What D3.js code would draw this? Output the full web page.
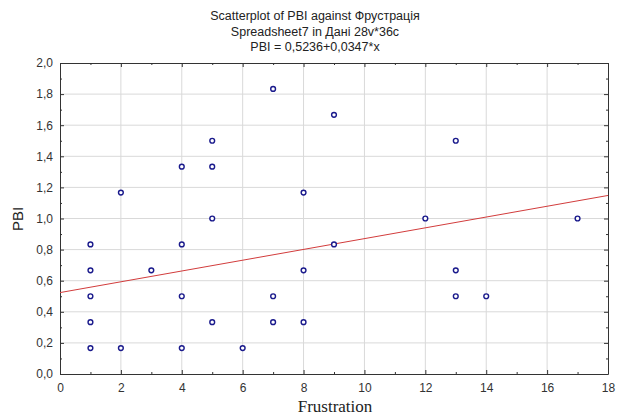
<!DOCTYPE html>
<html><head><meta charset="utf-8">
<script src="https://cdn.jsdelivr.net/npm/d3@7"></script>
<style>body{margin:0;background:#fff}svg{display:block}</style>
</head><body>
<script>
const titleLines = ["Scatterplot of PBI against Фрустрація", "Spreadsheet7 in Дані 28v*36c", "PBI = 0,5236+0,0347*x"];
const xLabel = "Frustration";
const yLabel = "PBI";
const frustration = [1,1,1,1,1, 2,2, 3, 4,4,4,4, 5,5,5,5, 6, 7,7,7, 8,8,8, 9,9, 12, 13,13,13, 14, 17];
const pbi = [0.8333,0.6667,0.5,0.3333,0.1667, 1.1667,0.1667, 0.6667, 1.3333,0.8333,0.5,0.1667, 1.5,1.3333,1.0,0.3333, 0.1667, 1.8333,0.5,0.3333, 1.1667,0.6667,0.3333, 1.6667,0.8333, 1.0, 1.5,0.6667,0.5, 0.5, 1.0];
const intercept = 0.5236, slope = 0.0347;
const xTicks = [0,2,4,6,8,10,12,14,16,18];
const yTicks = [0,0.2,0.4,0.6,0.8,1.0,1.2,1.4,1.6,1.8,2.0];

const W = 617, H = 418;
const L = 60, R = 608, T = 63, B = 374;
const svg = d3.select("body").append("svg").attr("width", W).attr("height", H);
const x = d3.scaleLinear().domain([0,18]).range([L,R]);
const y = d3.scaleLinear().domain([0,2]).range([B,T]);
const fmt = d => d3.format(".1f")(d).replace(".", ",");

// grid
svg.append("g").selectAll("line").data(xTicks.slice(1,-1)).join("line")
  .attr("x1", d=>x(d)).attr("x2", d=>x(d)).attr("y1", T).attr("y2", B)
  .attr("stroke", "#d9d9d9").attr("stroke-width", 1);
svg.append("g").selectAll("line").data(yTicks.slice(1,-1)).join("line")
  .attr("y1", d=>y(d)).attr("y2", d=>y(d)).attr("x1", L).attr("x2", R)
  .attr("stroke", "#d9d9d9").attr("stroke-width", 1);

// axes with inward ticks
const xMinor = d3.range(1,18,2), yMinor = d3.range(0.1,2,0.2);
const axCol = "#333";
svg.append("g").attr("transform", `translate(0,${B})`)
  .call(d3.axisBottom(x).tickValues(xTicks).tickFormat(d=>d).tickSizeInner(-4).tickSizeOuter(0).tickPadding(9));
svg.append("g").attr("transform", `translate(${L},0)`)
  .call(d3.axisLeft(y).tickValues(yTicks).tickFormat(fmt).tickSizeInner(-4).tickSizeOuter(0).tickPadding(7));
svg.append("g").attr("transform", `translate(0,${T})`)
  .call(d3.axisTop(x).tickValues(xTicks).tickFormat("").tickSizeInner(-4).tickSizeOuter(0));
svg.append("g").attr("transform", `translate(${R},0)`)
  .call(d3.axisRight(y).tickValues(yTicks).tickFormat("").tickSizeInner(-4).tickSizeOuter(0));
svg.append("g").attr("transform", `translate(0,${B})`).call(d3.axisBottom(x).tickValues(xMinor).tickFormat("").tickSizeInner(-2).tickSizeOuter(0)).select(".domain").remove();
svg.append("g").attr("transform", `translate(0,${T})`).call(d3.axisTop(x).tickValues(xMinor).tickFormat("").tickSizeInner(-2).tickSizeOuter(0)).select(".domain").remove();
svg.append("g").attr("transform", `translate(${L},0)`).call(d3.axisLeft(y).tickValues(yMinor).tickFormat("").tickSizeInner(-2).tickSizeOuter(0)).select(".domain").remove();
svg.append("g").attr("transform", `translate(${R},0)`).call(d3.axisRight(y).tickValues(yMinor).tickFormat("").tickSizeInner(-2).tickSizeOuter(0)).select(".domain").remove();
svg.selectAll(".domain, .tick line").attr("stroke", axCol);
svg.selectAll(".tick text").attr("font-family", "Liberation Sans, Arial, sans-serif").attr("font-size", 12).attr("fill", "#333");

// regression line
svg.append("line")
  .attr("x1", x(0)).attr("y1", y(intercept)).attr("x2", x(18)).attr("y2", y(intercept + slope*18))
  .attr("stroke", "#d23c3c").attr("stroke-width", 1);

// points
svg.append("g").selectAll("circle").data(frustration.map((f,i)=>[f,pbi[i]])).join("circle")
  .attr("cx", d=>x(d[0])).attr("cy", d=>y(d[1])).attr("r", 2.4)
  .attr("fill", "#fff").attr("stroke", "#1a1a8c").attr("stroke-width", 1.4);

// titles
svg.append("g").selectAll("text").data(titleLines).join("text")
  .attr("x", 315).attr("y", (d,i)=>20 + i*15.5).attr("text-anchor", "middle")
  .attr("font-family", "Liberation Sans, Arial, sans-serif").attr("font-size", 12.5).attr("fill", "#222").text(d=>d);
svg.append("text").attr("x", 335).attr("y", 412).attr("text-anchor", "middle")
  .attr("font-family", "Liberation Serif, Times New Roman, serif").attr("font-size", 17).attr("fill", "#222").text(xLabel);
svg.append("text").attr("transform", `translate(23,219) rotate(-90)`).attr("text-anchor", "middle")
  .attr("font-family", "Liberation Sans, Arial, sans-serif").attr("font-size", 15).attr("fill", "#222").text(yLabel);
</script>
</body></html>
